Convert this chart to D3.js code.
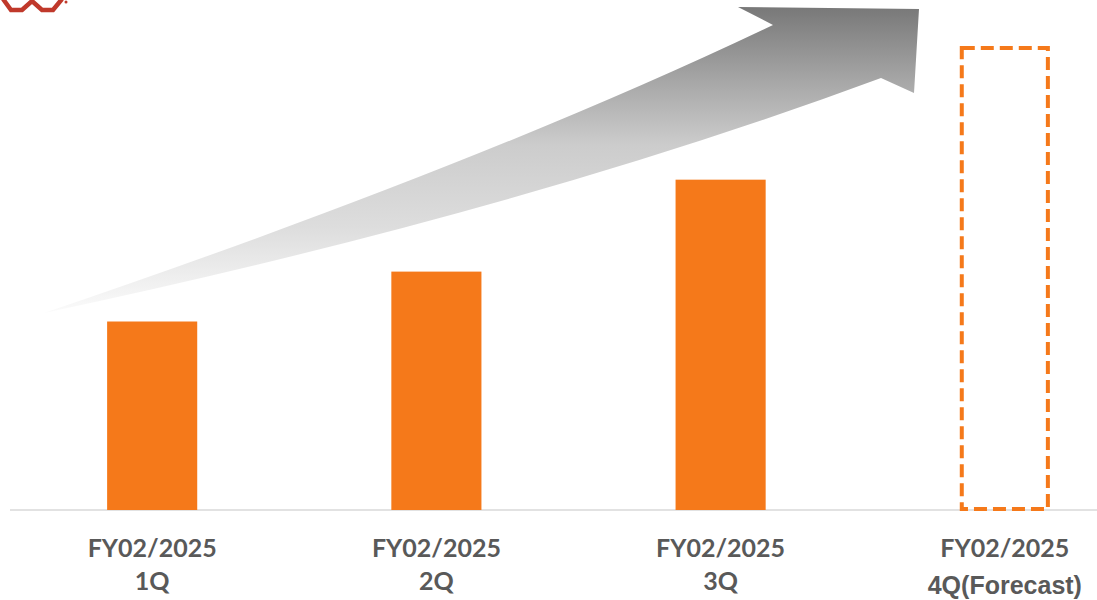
<!DOCTYPE html>
<html>
<head>
<meta charset="utf-8">
<script src="https://cdn.jsdelivr.net/npm/d3@7"></script>
<style>
  body { margin: 0; background: #fff; }
  svg { display: block; }
</style>
</head>
<body>
<div id="chart"></div>
<script>

// quarters and relative values (no value axis in the original)
var quarters = ["1Q", "2Q", "3Q", "4Q"];
var periodLabels = ["FY02/2025", "FY02/2025", "FY02/2025", "FY02/2025"];
var quarterLabels = ["1Q", "2Q", "3Q", "4Q(Forecast)"];
var values = [40.8, 51.6, 71.5, 100];
var isForecast = [false, false, false, true];

var width = 1097, height = 600;
var orange = "#F5791A";
var labelColor = "#595959";

var svg = d3.select("#chart").append("svg")
    .attr("width", width)
    .attr("height", height);

var x = d3.scaleBand()
    .domain(quarters)
    .range([-87, 1244])
    .padding(0.683);

var y = d3.scaleLinear()
    .domain([0, 100])
    .range([510, 48]);

// gradient for the growth arrow
var defs = svg.append("defs");
var grad = defs.append("linearGradient")
    .attr("id", "arrowGrad")
    .attr("gradientUnits", "userSpaceOnUse")
    .attr("x1", 0).attr("y1", 313)
    .attr("x2", 0).attr("y2", 7);
grad.append("stop").attr("offset", "0%").attr("stop-color", "#fbfbfb");
grad.append("stop").attr("offset", "28%").attr("stop-color", "#dddddd");
grad.append("stop").attr("offset", "55%").attr("stop-color", "#cccccc");
grad.append("stop").attr("offset", "75%").attr("stop-color", "#a8a8a8");
grad.append("stop").attr("offset", "100%").attr("stop-color", "#787878");

// decorative curved arrow
var p = d3.path();
p.moveTo(44, 313);
p.quadraticCurveTo(480, 165, 773, 25);
p.lineTo(738, 7);
p.lineTo(919, 9);
p.lineTo(914, 93);
p.lineTo(881, 78);
p.quadraticCurveTo(520, 212, 44, 313);
p.closePath();

svg.append("path")
    .attr("d", p.toString())
    .attr("fill", "url(#arrowGrad)");

// logo fragment top-left
svg.append("path")
    .attr("d", "M3,-1 L11,10 L22,10 L32,1 L42,10 L53,10 L62,-1")
    .attr("fill", "none")
    .attr("stroke", "#c0392b")
    .attr("stroke-width", 4.5);
svg.append("circle")
    .attr("cx", 66).attr("cy", 2).attr("r", 1.5)
    .attr("fill", "#c0392b");

// baseline
svg.append("line")
    .attr("x1", 10).attr("x2", width)
    .attr("y1", y(0)).attr("y2", y(0))
    .attr("stroke", "#d9d9d9")
    .attr("stroke-width", 1.5);

// solid bars
svg.selectAll(".bar")
    .data(quarters.filter(function(d, i) { return !isForecast[i]; }))
    .enter().append("rect")
    .attr("class", "bar")
    .attr("x", function(d) { return x(d); })
    .attr("width", x.bandwidth())
    .attr("y", function(d) { return y(values[quarters.indexOf(d)]); })
    .attr("height", function(d) { return y(0) - y(values[quarters.indexOf(d)]); })
    .attr("fill", orange);

// forecast bar, dashed outline
svg.selectAll(".forecast")
    .data(quarters.filter(function(d, i) { return isForecast[i]; }))
    .enter().append("rect")
    .attr("class", "forecast")
    .attr("x", function(d) { return x(d) + 2; })
    .attr("width", x.bandwidth() - 4)
    .attr("y", function(d) { return y(values[quarters.indexOf(d)]); })
    .attr("height", function(d) { return y(0) - y(values[quarters.indexOf(d)]) - 1; })
    .attr("fill", "none")
    .attr("stroke", orange)
    .attr("stroke-width", 4)
    .attr("stroke-dasharray", "13,6");

// category labels
var labels = svg.selectAll(".label")
    .data(quarters)
    .enter().append("text")
    .attr("class", "label")
    .attr("text-anchor", "middle")
    .attr("fill", labelColor)
    .style("font-weight", "bold");

labels.append("tspan")
    .attr("x", function(d) { return x(d) + x.bandwidth() / 2; })
    .attr("y", 557)
    .style("font-family", "Lato, 'Open Sans', sans-serif")
    .style("font-size", "25px")
    .text(function(d, i) { return periodLabels[i]; });

labels.append("tspan")
    .attr("x", function(d) { return x(d) + x.bandwidth() / 2; })
    .attr("y", function(d, i) { return isForecast[i] ? 594 : 590; })
    .style("font-family", function(d, i) { return isForecast[i] ? "'Liberation Sans', Arial, sans-serif" : "Lato, 'Open Sans', sans-serif"; })
    .style("font-size", function(d, i) { return isForecast[i] ? "25px" : "25px"; })
    .text(function(d, i) { return quarterLabels[i]; });

</script>
</body>
</html>
